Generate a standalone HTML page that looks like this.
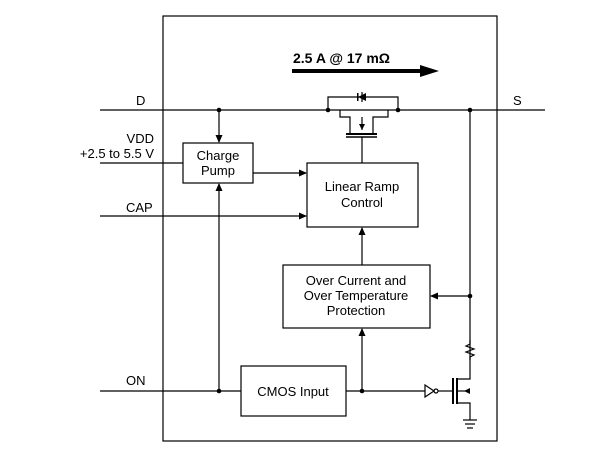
<!DOCTYPE html>
<html><head><style>body{margin:0;background:#fff}svg{display:block}text{font-family:"Liberation Sans",Arial,sans-serif;font-size:13px;fill:#000}</style></head><body>
<svg width="610" height="476" viewBox="0 0 610 476">
<defs><marker id="a" markerWidth="8" markerHeight="8" refX="7" refY="4" orient="auto" markerUnits="userSpaceOnUse"><path d="M0,0.5 L8,4 L0,7.5z" fill="#000"/></marker></defs>
<g stroke="#000" stroke-width="1.2" fill="none">
<rect x="163" y="16" width="334" height="425"/>
<line x1="100" y1="110" x2="545" y2="110"/>
<!-- mosfet -->
<polyline points="328,110 328,97 398,97 398,110"/>
<polyline points="340,110 340,117 350,117 350,134"/>
<polyline points="388,110 388,117 373,117 373,134"/>
<line x1="362" y1="117" x2="362" y2="130"/>
<line x1="346" y1="134" x2="377" y2="134" stroke-width="2"/>
<line x1="346" y1="137" x2="377" y2="137" stroke-width="1.5"/>
<line x1="362" y1="92" x2="362" y2="102"/>
<line x1="362" y1="137" x2="362" y2="163"/>
<line x1="219" y1="110" x2="219" y2="142" marker-end="url(#a)"/>
<rect x="183" y="143" width="70" height="40"/>
<rect x="307" y="163" width="111" height="64"/>
<rect x="283" y="265" width="147" height="63"/>
<rect x="241" y="366" width="105" height="50"/>
<line x1="100" y1="163" x2="183" y2="163"/>
<line x1="253" y1="173" x2="306" y2="173" marker-end="url(#a)"/>
<line x1="100" y1="216" x2="306" y2="216" marker-end="url(#a)"/>
<line x1="100" y1="391" x2="241" y2="391"/>
<line x1="219" y1="391" x2="219" y2="184" marker-end="url(#a)"/>
<line x1="362" y1="265" x2="362" y2="228" marker-end="url(#a)"/>
<line x1="346" y1="391" x2="425" y2="391"/>
<line x1="362" y1="391" x2="362" y2="329" marker-end="url(#a)"/>
<polygon points="425,385 425,397 434,391"/>
<circle cx="436" cy="391" r="2"/>
<line x1="438" y1="391" x2="452" y2="391"/>
<line x1="453" y1="378" x2="453" y2="404" stroke-width="2"/>
<line x1="457" y1="378" x2="457" y2="404" stroke-width="2"/>
<polyline points="457,379 470,379 470,110"/>
<polyline points="457,403 470,403 470,420"/>
<line x1="470" y1="391" x2="457" y2="391"/>
<line x1="470" y1="296" x2="431" y2="296" marker-end="url(#a)"/>
<polyline points="470,340 470,344 466,346 474,349 466,352 474,355 470,357 470,360" fill="none"/>
<line x1="463" y1="420" x2="477" y2="420"/>
<line x1="465" y1="424" x2="475" y2="424"/>
<line x1="467" y1="428" x2="473" y2="428"/>
<line x1="292" y1="71" x2="422" y2="71" stroke-width="4"/>
</g>
<rect x="357" y="93" width="1.5" height="8" fill="#000"/>
<path d="M366,93 L358,97 L366,101z" fill="#000"/>
<path d="M362,130 L359,124 L365,124z" fill="#000"/>
<path d="M464,391 L470,388 L470,394z" fill="#000"/>
<path d="M420,65 L439,71 L420,77z" fill="#000"/>
<g fill="#000">
<circle cx="219" cy="110" r="2.3"/><circle cx="328" cy="110" r="2.3"/><circle cx="398" cy="110" r="2.3"/><circle cx="470" cy="110" r="2.3"/>
<circle cx="219" cy="391" r="2.3"/><circle cx="362" cy="391" r="2.3"/><circle cx="470" cy="296" r="2.3"/>
</g>
<text x="293" y="63" style="font-weight:bold;font-size:14px">2.5 A @ 17 mΩ</text>
<text x="136" y="105">D</text>
<text x="513" y="105">S</text>
<text x="154" y="143" text-anchor="end">VDD</text>
<text x="154" y="158" text-anchor="end">+2.5 to 5.5 V</text>
<text x="126" y="212">CAP</text>
<text x="126" y="385">ON</text>
<text x="218" y="160" text-anchor="middle">Charge</text>
<text x="218" y="175" text-anchor="middle">Pump</text>
<text x="362" y="191" text-anchor="middle">Linear Ramp</text>
<text x="362" y="207" text-anchor="middle">Control</text>
<text x="356" y="285" text-anchor="middle">Over Current and</text>
<text x="356" y="300" text-anchor="middle">Over Temperature</text>
<text x="356" y="315" text-anchor="middle">Protection</text>
<text x="293" y="396" text-anchor="middle">CMOS Input</text>
</svg>
</body></html>
